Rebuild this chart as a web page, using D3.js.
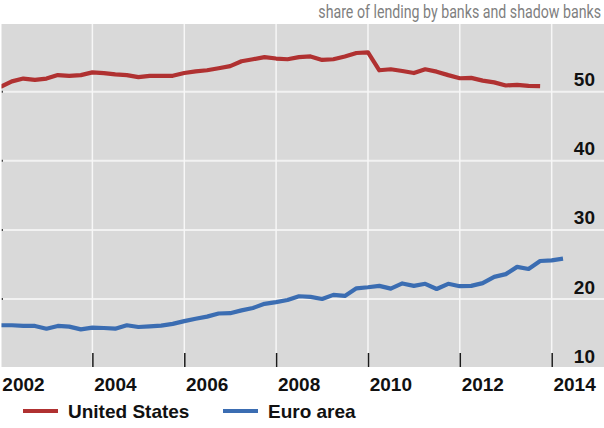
<!DOCTYPE html>
<html>
<head>
<meta charset="utf-8">
<script src="https://cdn.jsdelivr.net/npm/d3@7"></script>
<style>
  body { margin: 0; background: #fff; }
  svg { display: block; }
</style>
</head>
<body>
<svg id="chart"></svg>
<script>
// quarterly shares, 2002 Q1 onwards
var usShare = [50.7, 51.5, 51.9, 51.7, 51.9, 52.4, 52.3, 52.4,
               52.8, 52.7, 52.5, 52.4, 52.1, 52.3, 52.3, 52.3,
               52.7, 52.95, 53.1, 53.4, 53.7, 54.4, 54.7, 55.0,
               54.8, 54.7, 55.0, 55.1, 54.6, 54.7, 55.1, 55.6,
               55.7, 53.1, 53.25, 53.0, 52.7, 53.25, 52.9, 52.4,
               51.95, 52.0, 51.6, 51.35, 50.9, 51.0, 50.85, 50.8]
var euroShare = [16.2, 16.2, 16.1, 16.1, 15.7, 16.1, 16.0, 15.6,
                 15.85, 15.8, 15.7, 16.2, 15.95, 16.05, 16.15, 16.4,
                 16.8, 17.15, 17.45, 17.9, 17.95, 18.35, 18.7, 19.3,
                 19.55, 19.85, 20.4, 20.3, 20.0, 20.6, 20.45, 21.55,
                 21.7, 21.9, 21.5, 22.25, 21.9, 22.2, 21.45, 22.2,
                 21.85, 21.9, 22.3, 23.2, 23.6, 24.65, 24.35, 25.5,
                 25.6, 25.85]
var yearTicks = [2002, 2004, 2006, 2008, 2010, 2012, 2014]
var valueTicks = [10, 20, 30, 40, 50]
var seriesNames = ["United States", "Euro area"]
var seriesColors = ["#b03131", "#3b6db2"]

var dimensions = {
    width: 604,
    height: 428,
    plot: { left: 1.5, right: 604, top: 24, bottom: 367 }
}

var quarters = d3.timeMonth.every(3).range(new Date(2002, 0, 1), new Date(2015, 0, 1))

var svg = d3.select("#chart")
            .attr("width", dimensions.width)
            .attr("height", dimensions.height)
            .style("font-family", "Liberation Sans, Arial, sans-serif")

var xScale = d3.scaleTime()
               .domain([new Date(2002, 0, 1), new Date(2015, 1, 21)])
               .range([0.6, 604])

var yScale = d3.scaleLinear()
               .domain([10, 60])
               .range([368.1, 22.6])

svg.append("defs").append("clipPath").attr("id", "plotclip")
   .append("rect")
   .attr("x", dimensions.plot.left)
   .attr("y", dimensions.plot.top)
   .attr("width", dimensions.plot.right - dimensions.plot.left)
   .attr("height", dimensions.plot.bottom - dimensions.plot.top)

// background panel
svg.append("rect")
   .attr("x", dimensions.plot.left)
   .attr("y", dimensions.plot.top)
   .attr("width", dimensions.plot.right - dimensions.plot.left)
   .attr("height", dimensions.plot.bottom - dimensions.plot.top)
   .attr("fill", "#d9d9d9")

var grid = svg.append("g").attr("clip-path", "url(#plotclip)")

grid.selectAll("line.h")
    .data(valueTicks.filter(d => d > 10))
    .enter()
    .append("line")
    .attr("class", "h")
    .attr("x1", dimensions.plot.left)
    .attr("x2", dimensions.plot.right)
    .attr("y1", d => yScale(d))
    .attr("y2", d => yScale(d))
    .attr("stroke", "#f2f2f2")
    .attr("stroke-width", 2)

grid.selectAll("line.v")
    .data(yearTicks.slice(1))
    .enter()
    .append("line")
    .attr("class", "v")
    .attr("x1", d => xScale(new Date(d, 0, 1)))
    .attr("x2", d => xScale(new Date(d, 0, 1)))
    .attr("y1", dimensions.plot.top)
    .attr("y2", dimensions.plot.bottom)
    .attr("stroke", "#f7f7f7")
    .attr("stroke-width", 1.5)

// small stubs on the left edge
grid.selectAll("line.stub")
    .data(valueTicks.filter(d => d > 10))
    .enter()
    .append("line")
    .attr("class", "stub")
    .attr("x1", dimensions.plot.left)
    .attr("x2", dimensions.plot.left + 1.5)
    .attr("y1", d => yScale(d))
    .attr("y2", d => yScale(d))
    .attr("stroke", "#444")
    .attr("stroke-width", 2)

// x axis ticks pointing up into the panel
var xAxisGen = d3.axisTop(xScale)
                 .tickValues(yearTicks.slice(1).map(d => new Date(d, 0, 1)))
                 .tickSize(14)
                 .tickFormat("")
var xAxis = svg.append("g")
               .attr("transform", `translate(0,${dimensions.plot.bottom})`)
               .call(xAxisGen)
xAxis.select(".domain").remove()
xAxis.selectAll("line").attr("stroke", "#1a1a1a").attr("stroke-width", 1.5)

// year labels centred on mid-year
svg.append("g")
   .selectAll("text")
   .data(yearTicks)
   .enter()
   .append("text")
   .attr("x", d => xScale(new Date(d, 6, 2)))
   .attr("y", 391)
   .attr("text-anchor", "middle")
   .attr("font-size", 19)
   .attr("font-weight", "bold")
   .attr("fill", "#111")
   .text(d => d)

// value labels on the right, sitting above the gridline
svg.append("g")
   .selectAll("text")
   .data(valueTicks)
   .enter()
   .append("text")
   .attr("x", 595)
   .attr("y", d => yScale(d) - 5.5)
   .attr("text-anchor", "end")
   .attr("font-size", 19)
   .attr("font-weight", "bold")
   .attr("fill", "#111")
   .text(d => d)

var lineGen = d3.line()
                .x((d, i) => xScale(quarters[i]))
                .y(d => yScale(d))

var lines = svg.append("g").attr("clip-path", "url(#plotclip)")
lines.selectAll("path")
     .data([usShare, euroShare])
     .enter()
     .append("path")
     .attr("d", d => lineGen(d))
     .attr("fill", "none")
     .attr("stroke", (d, i) => seriesColors[i])
     .attr("stroke-width", 4.2)
     .attr("stroke-linejoin", "round")

// title: a narrow look, squeezed horizontally to the reference width
var title = svg.append("text")
               .attr("x", 0)
               .attr("y", 0)
               .attr("text-anchor", "end")
               .attr("font-family", "Roboto, sans-serif")
               .attr("font-size", 17.5)
               .attr("fill", "#7f7f7f")
               .text("share of lending by banks and shadow banks")
var titleWidth = title.node().getComputedTextLength()
title.attr("transform", `translate(601,17.5) scale(${283 / titleWidth},1)`)

// legend
var legendX = [23, 223]
var legend = svg.append("g")
                .selectAll("g")
                .data(seriesNames)
                .enter()
                .append("g")
                .attr("transform", (d, i) => `translate(${legendX[i]},411)`)
legend.append("line")
      .attr("x1", 0)
      .attr("x2", 35)
      .attr("stroke", (d, i) => seriesColors[i])
      .attr("stroke-width", 4.2)
legend.append("text")
      .attr("x", 45)
      .attr("y", 7)
      .attr("font-size", 19)
      .attr("font-weight", "bold")
      .attr("fill", "#111")
      .text(d => d)
</script>
</body>
</html>
